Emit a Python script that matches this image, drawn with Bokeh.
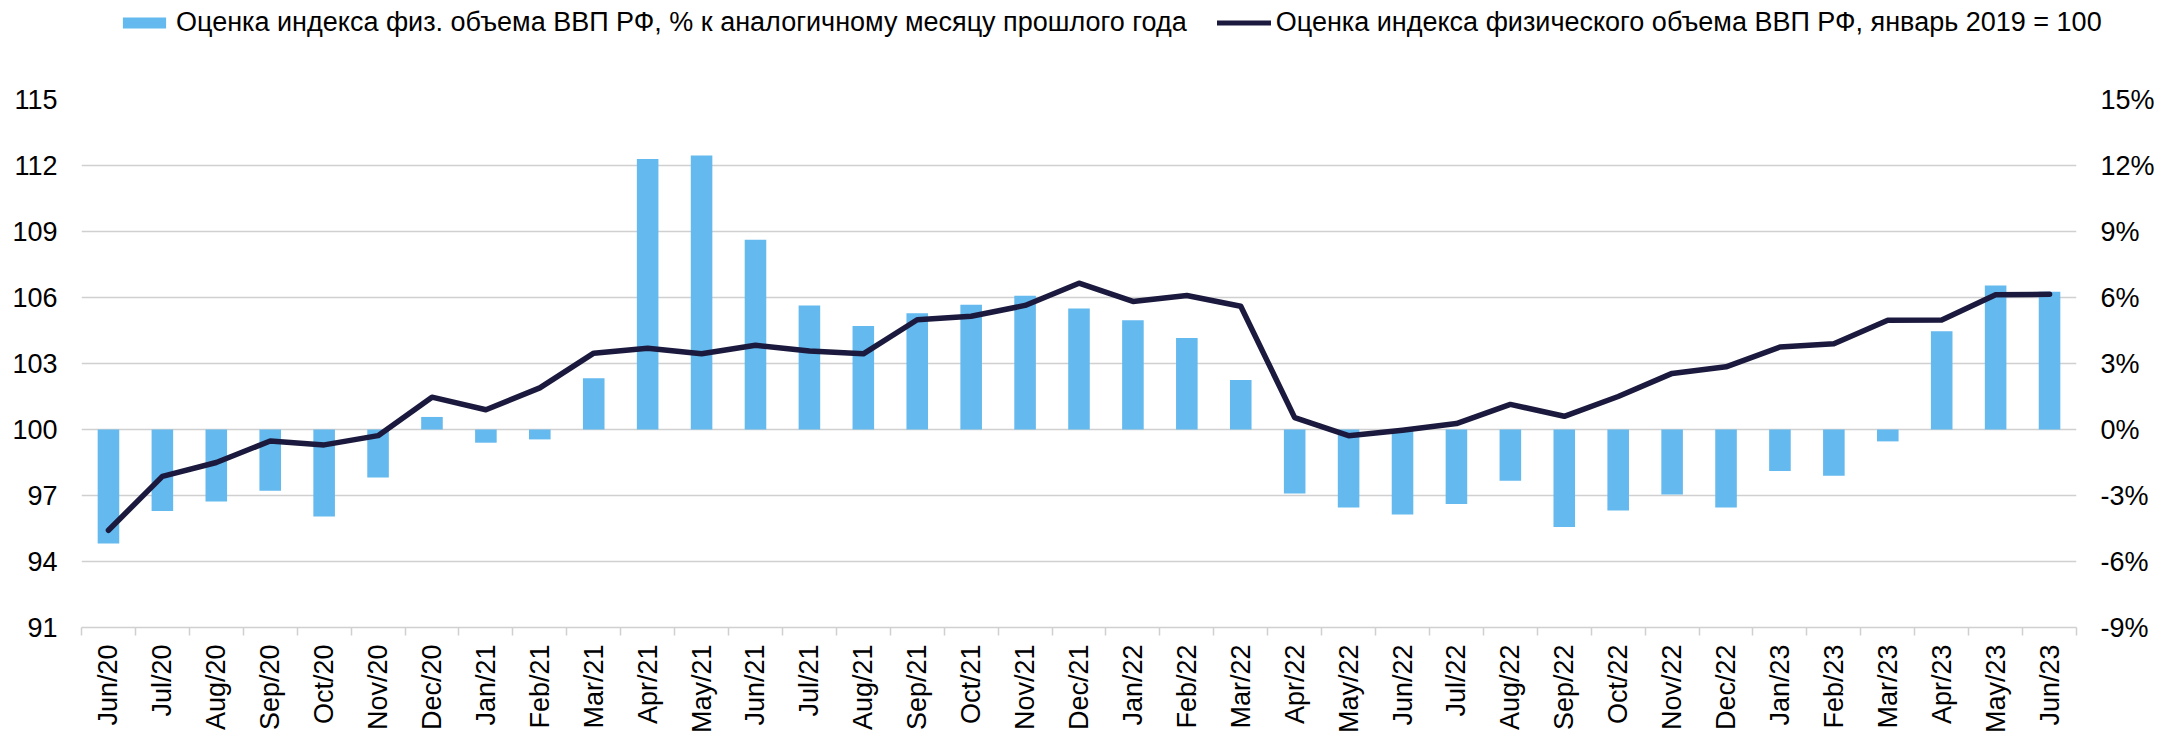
import math
from bokeh.plotting import figure
from bokeh.layouts import column
from bokeh.models import (Range1d, LinearAxis, FixedTicker, PrintfTickFormatter,
                          Legend, LegendItem, ColumnDataSource)
from bokeh.embed import file_html
from bokeh.resources import INLINE

months = ["Jun/20", "Jul/20", "Aug/20", "Sep/20", "Oct/20", "Nov/20", "Dec/20",
          "Jan/21", "Feb/21", "Mar/21", "Apr/21", "May/21", "Jun/21", "Jul/21",
          "Aug/21", "Sep/21", "Oct/21", "Nov/21", "Dec/21", "Jan/22", "Feb/22",
          "Mar/22", "Apr/22", "May/22", "Jun/22", "Jul/22", "Aug/22", "Sep/22",
          "Oct/22", "Nov/22", "Dec/22", "Jan/23", "Feb/23", "Mar/23", "Apr/23",
          "May/23", "Jun/23"]

# % к аналогичному месяцу прошлого года (правая ось)
gdp_yoy = [-5.18, -3.70, -3.27, -2.78, -3.96, -2.18, 0.57,
           -0.60, -0.45, 2.33, 12.30, 12.45, 8.63, 5.64,
           4.71, 5.28, 5.67, 6.08, 5.50, 4.97, 4.16,
           2.25, -2.91, -3.54, -3.86, -3.39, -2.33, -4.43,
           -3.68, -2.96, -3.54, -1.89, -2.10, -0.54, 4.47,
           6.54, 6.26]

# январь 2019 = 100 (левая ось)
gdp_index = [95.42, 97.87, 98.50, 99.48, 99.30, 99.72, 101.47,
             100.90, 101.89, 103.47, 103.69, 103.44, 103.83, 103.57,
             103.44, 104.99, 105.15, 105.64, 106.65, 105.82, 106.09,
             105.60, 100.54, 99.72, 99.97, 100.27, 101.14, 100.60,
             101.50, 102.55, 102.85, 103.75, 103.90, 104.97, 104.98,
             106.12, 106.15]

left_ticks = [91, 94, 97, 100, 103, 106, 109, 112, 115]
right_ticks = [-9, -6, -3, 0, 3, 6, 9, 12, 15]

label_bar = "Оценка индекса физ. объема ВВП РФ, % к аналогичному месяцу прошлого года"
label_line = "Оценка индекса физического объема ВВП РФ, январь 2019 = 100"

BAR_COLOR = "#64B9EE"
LINE_COLOR = "#1B1A3E"
GRID = "#D0D0D0"
FONT = "Liberation Sans"
FS = "27px"

W = 2157
LEG_H = 44
MAIN_H = 736 - LEG_H

xs = list(range(len(months)))
src = ColumnDataSource(dict(x=xs, month=months, yoy=gdp_yoy, idx=gdp_index))

label_style = dict(major_label_text_font=FONT, major_label_text_font_size=FS,
                   major_label_text_color="black")

# ---------------- main chart ----------------
p = figure(width=W, height=MAIN_H, output_backend="svg", toolbar_location=None,
           x_range=Range1d(-0.5, len(months) - 0.5),
           y_range=Range1d(left_ticks[0], left_ticks[-1]),
           min_border_left=81, min_border_right=81,
           min_border_top=99 - LEG_H, min_border_bottom=107,
           outline_line_color=None, background_fill_color="white",
           border_fill_color="white")
p.frame_align = False
p.extra_y_ranges = {"pct": Range1d(right_ticks[0], right_ticks[-1])}

bars = p.vbar(x="x", top="yoy", bottom=0, width=0.4, source=src,
              y_range_name="pct", fill_color=BAR_COLOR, line_color=None)
line = p.line(x="x", y="idx", source=src, line_width=5.5, line_color=LINE_COLOR,
              line_join="round", line_cap="round")

p.xgrid.visible = False
p.ygrid.ticker = FixedTicker(ticks=left_ticks)
p.ygrid.grid_line_color = GRID
p.ygrid.grid_line_width = 1.5

xa = p.xaxis[0]
xa.ticker = FixedTicker(ticks=xs, minor_ticks=[i - 0.5 for i in range(len(months) + 1)])
xa.major_label_overrides = {i: m for i, m in enumerate(months)}
xa.major_label_orientation = math.pi / 2
xa.major_tick_line_color = None
xa.major_tick_out = 0
xa.major_tick_in = 0
xa.minor_tick_out = 8
xa.minor_tick_in = 0
xa.minor_tick_line_color = GRID
xa.minor_tick_line_width = 1.5
xa.axis_line_color = GRID
xa.axis_line_width = 1.5
xa.major_label_standoff = 9
for k, v in label_style.items():
    setattr(xa, k, v)

ya = p.yaxis[0]
ya.ticker = FixedTicker(ticks=left_ticks)
ya.axis_line_color = None
ya.major_tick_line_color = None
ya.minor_tick_line_color = None
ya.major_tick_out = 0
ya.minor_tick_out = 0
ya.major_label_standoff = 24
for k, v in label_style.items():
    setattr(ya, k, v)

ra = LinearAxis(y_range_name="pct", ticker=FixedTicker(ticks=right_ticks),
                formatter=PrintfTickFormatter(format="%d%%"),
                axis_line_color=None, major_tick_line_color=None,
                minor_tick_line_color=None, major_tick_out=0, minor_tick_out=0,
                major_tick_in=0, minor_tick_in=0,
                major_label_standoff=24, major_label_text_align="left",
                **label_style)
p.add_layout(ra, "right")

# ---------------- legend strip: same glyph styles, data kept out of view ----------------
lg = figure(width=W, height=LEG_H, output_backend="svg", toolbar_location=None,
            x_axis_location=None, y_axis_location=None,
            x_range=Range1d(-0.5, len(months) - 0.5), y_range=Range1d(1000, 1001),
            min_border_left=0, min_border_right=0, min_border_top=0,
            min_border_bottom=0, outline_line_color=None,
            background_fill_color="white", border_fill_color="white")
lg.frame_align = False
lg.grid.visible = False
lbars = lg.vbar(x="x", top="yoy", bottom=0, width=0.4, source=src,
                fill_color=BAR_COLOR, line_color=None)
lline = lg.line(x="x", y="idx", source=src, line_width=5, line_color=LINE_COLOR,
                line_join="round", line_cap="round")

legend = Legend(items=[LegendItem(label=label_bar, renderers=[lbars]),
                       LegendItem(label=label_line, renderers=[lline])],
                orientation="horizontal", location="left",
                glyph_width=54, glyph_height=14, label_standoff=5, spacing=30,
                padding=0, margin=117, border_line_color=None,
                background_fill_alpha=0,
                label_text_font=FONT, label_text_font_size=FS,
                label_text_color="black")
lg.add_layout(legend, "center")

layout = column(lg, p, spacing=0)
open("out.html", "w").write(file_html(layout, INLINE))
